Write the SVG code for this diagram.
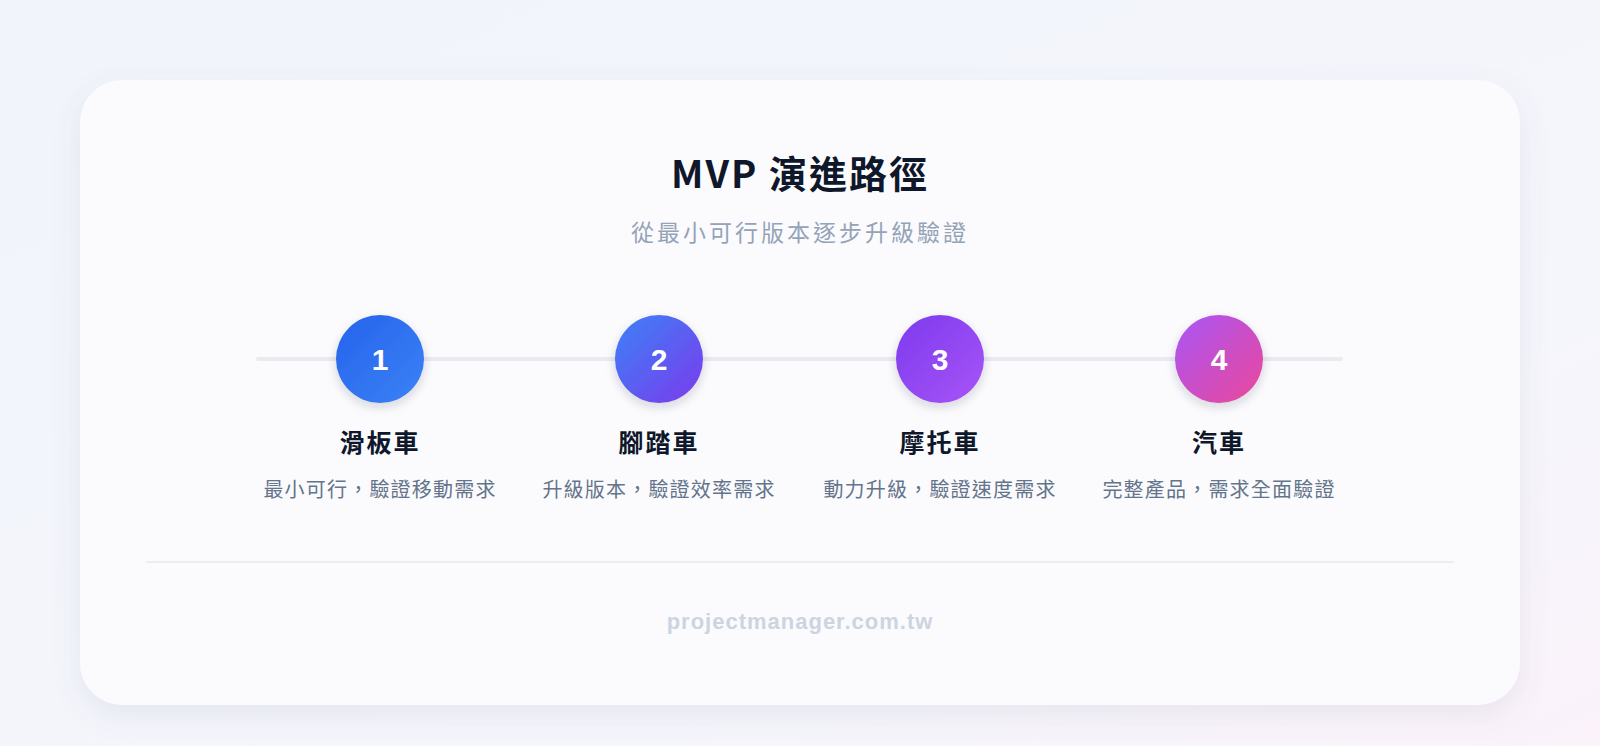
<svg xmlns="http://www.w3.org/2000/svg" width="1600" height="746" viewBox="0 0 1600 746">
<defs>
<linearGradient id="bg" x1="0" y1="0" x2="1" y2="1"><stop offset="0" stop-color="#f1f4fb"/><stop offset="0.7" stop-color="#f5f6fc"/><stop offset="1" stop-color="#fbf2fa"/></linearGradient>
<linearGradient id="g1" x1="0" y1="0" x2="1" y2="1"><stop offset="0" stop-color="#2563eb"/><stop offset="1" stop-color="#3b82f6"/></linearGradient>
<linearGradient id="g2" x1="0" y1="0" x2="1" y2="1"><stop offset="0" stop-color="#3b82f6"/><stop offset="1" stop-color="#7c3aed"/></linearGradient>
<linearGradient id="g3" x1="0" y1="0" x2="1" y2="1"><stop offset="0" stop-color="#7c3aed"/><stop offset="1" stop-color="#a855f7"/></linearGradient>
<linearGradient id="g4" x1="0" y1="0" x2="1" y2="1"><stop offset="0" stop-color="#a855f7"/><stop offset="1" stop-color="#ec4899"/></linearGradient>
<filter id="cs" x="-20%" y="-20%" width="140%" height="150%"><feDropShadow dx="0" dy="10" stdDeviation="14" flood-color="#64748b" flood-opacity="0.12"/></filter>
<filter id="ns" x="-50%" y="-50%" width="200%" height="200%"><feDropShadow dx="0" dy="4" stdDeviation="5" flood-color="#1e293b" flood-opacity="0.18"/></filter>
<style>
text{font-family:"Noto Sans CJK TC","Liberation Sans",sans-serif;text-anchor:middle}
.num{font-family:"Liberation Sans","Noto Sans",sans-serif;font-size:30px;font-weight:600;fill:#fff}
.lab{font-size:25px;font-weight:700;fill:#0f172a;letter-spacing:2px}
.desc{font-size:20px;fill:#64748b;letter-spacing:1.2px}
</style>
</defs>
<rect width="1600" height="746" fill="url(#bg)"/>
<rect x="80" y="80" width="1440" height="625" rx="42" fill="#fcfcfe" fill-opacity="0.95" filter="url(#cs)"/>
<text x="800" y="188" style="font-size:38px;font-weight:700;fill:#0f172a;letter-spacing:2px">MVP 演進路徑</text>
<text x="800" y="241" style="font-size:23px;fill:#94a3b8;letter-spacing:3px">從最小可行版本逐步升級驗證</text>
<g id="connectors"><line x1="258" y1="359" x2="1341" y2="359" stroke="#e9ebf0" stroke-width="4" stroke-linecap="round"/></g>
<g id="n1"><circle cx="380" cy="359" r="44" fill="url(#g1)" filter="url(#ns)"/><text class="num" x="380" y="370">1</text><text class="lab" x="380" y="452">滑板車</text><text class="desc" x="380" y="497">最小可行，驗證移動需求</text></g>
<g id="n2"><circle cx="659" cy="359" r="44" fill="url(#g2)" filter="url(#ns)"/><text class="num" x="659" y="370">2</text><text class="lab" x="659" y="452">腳踏車</text><text class="desc" x="659" y="497">升級版本，驗證效率需求</text></g>
<g id="n3"><circle cx="940" cy="359" r="44" fill="url(#g3)" filter="url(#ns)"/><text class="num" x="940" y="370">3</text><text class="lab" x="940" y="452">摩托車</text><text class="desc" x="940" y="497">動力升級，驗證速度需求</text></g>
<g id="n4"><circle cx="1219" cy="359" r="44" fill="url(#g4)" filter="url(#ns)"/><text class="num" x="1219" y="370">4</text><text class="lab" x="1219" y="452">汽車</text><text class="desc" x="1219" y="497">完整產品，需求全面驗證</text></g>
<line x1="146" y1="562" x2="1454" y2="562" stroke="#e5e8ee" stroke-width="1.5"/>
<text x="800" y="629" style="font-family:'Liberation Sans',sans-serif;font-size:22px;font-weight:700;fill:#cbd5e1;letter-spacing:1px">projectmanager.com.tw</text>
</svg>
